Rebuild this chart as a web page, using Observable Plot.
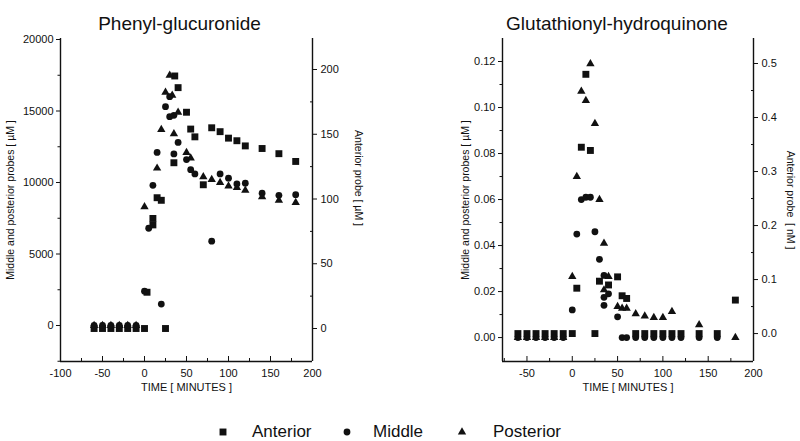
<!DOCTYPE html>
<html><head><meta charset="utf-8">
<script src="https://cdn.jsdelivr.net/npm/d3@7"></script>
<script src="https://cdn.jsdelivr.net/npm/@observablehq/plot@0.6"></script>
<style>
body{margin:0;background:#fff;font-family:"Liberation Sans",Arial,sans-serif;color:#111}
#wrap{position:relative;width:800px;height:441px;overflow:hidden;background:#fff}
#left,#right{position:absolute;top:0}
#left{left:0}#right{left:400px}
.lt{position:absolute;top:421px;font-size:17px;line-height:22px;white-space:nowrap}
.ls{position:absolute}
</style></head><body>
<div id="wrap"><div id="left"></div><div id="right"></div><div id="legend"></div></div>
<script>
// ---------- Phenyl-glucuronide ----------
const pgAnteriorT = [-60,-50,-40,-30,-20,-10,0,3,10,10,15,20,25,35,36,40,50,55,60,70,80,90,100,110,120,140,160,180];
const pgAnteriorV = [0,0,0,0,0,0,0,28,85,80,101,99,0,128,195,186,167,154,148,111,155,152,147,145,141,139,135,129];
const pgMiddleT = [-60,-50,-40,-30,-20,-10,0,5,10,15,20,25,30,30,35,35,40,50,55,60,80,90,100,110,120,140,160,180];
const pgMiddleV = [0,0,0,0,0,0,2400,6800,9800,12100,1500,15300,16000,14600,14700,12000,12800,11600,10900,10600,5900,10600,10300,9900,9950,9250,9100,9150];
const pgPosteriorT = [-60,-50,-40,-30,-20,-10,0,15,20,25,30,33,35,40,50,55,70,80,90,100,110,120,140,160,180];
const pgPosteriorV = [0,0,0,0,0,0,8300,11000,13700,16300,17500,16100,13400,14900,12100,11700,10400,10200,10000,9750,9650,9450,9000,8750,8600];

// ---------- Glutathionyl-hydroquinone ----------
const ghAnteriorT = [-60,-50,-40,-30,-20,-10,0,5,10,15,20,25,30,40,50,55,60,70,80,90,100,110,120,140,160,180];
const ghAnteriorV = [0,0,0,0,0,0,0,0.084,0.345,0.48,0.339,0,0.097,0.09,0.105,0.070,0.065,0,0,0,0,0,0,0,0,0.062];
const ghMiddleT = [-60,-50,-40,-30,-20,-10,0,5,10,15,20,25,30,35,35,35,40,50,55,60,70,80,90,100,110,120,140,160];
const ghMiddleV = [0,0,0,0,0,0,0.012,0.045,0.060,0.061,0.061,0.046,0.034,0.027,0.0175,0.014,0.019,0.009,0,0,0,0,0,0,0,0,0,0];
const ghPosteriorT = [-60,-50,-40,-30,-20,-10,0,5,10,15,20,25,30,35,35,40,50,55,60,70,80,90,100,110,140,180];
const ghPosteriorV = [0,0,0,0,0,0,0.0265,0.070,0.107,0.103,0.119,0.093,0.060,0.041,0.0207,0.0265,0.0135,0.0127,0.0127,0.0103,0.0093,0.0087,0.0087,0.0113,0.0055,0];

// ---------- tick values ----------
const pgXTicks = [-100,-50,0,50,100,150,200], pgXMinor = [-75,-25,25,75,125,175];
const pgYTicks = [0,5000,10000,15000,20000], pgYMinor = [-2500,2500,7500,12500,17500];
const pgAntTicks = [0,50,100,150,200], pgAntMinor = [25,75,125,175];
const ghXTicks = [-50,0,50,100,150,200], ghXMinor = [-75,-25,25,75,125,175];
const ghYTicks = [0,0.02,0.04,0.06,0.08,0.10,0.12], ghYMinor = [0.01,0.03,0.05,0.07,0.09,0.11];
const ghAntTicks = [0,0.1,0.2,0.3,0.4,0.5], ghAntMinor = [0.05,0.15,0.25,0.35,0.45];

const INK = "#111";
const plain = d => String(Math.round(d));
function rows(T, V, f = v => v) { return T.map((t, i) => ({t, y: f(V[i])})); }

function panel(c) {
  const toL = v => c.a * v + c.b;
  return Plot.plot({
    width: 400, height: 400,
    marginLeft: c.ml, marginRight: c.mr, marginTop: 38, marginBottom: 39,
    x: {domain: c.domainX, label: null},
    y: {domain: c.domainY, label: null},
    style: {fontFamily: '"Liberation Sans", Arial, sans-serif', color: INK, background: "white", overflow: "visible"},
    marks: [
      Plot.ruleX([c.domainX[0]], {stroke: INK, strokeWidth: 1.4}),
      Plot.ruleX([c.domainX[1]], {stroke: INK, strokeWidth: 1.4}),
      Plot.ruleY([c.domainY[0]], {stroke: INK, strokeWidth: 1.4}),
      Plot.axisX(c.xTicks, {tickSize: -5, tickPadding: 13, fontSize: 11, tickFormat: plain, label: null, stroke: INK}),
      Plot.axisX(c.xMinor, {tickSize: -3, tickFormat: () => "", label: null, stroke: INK}),
      Plot.axisY(c.yTicks, {anchor: "left", tickSize: 4, tickPadding: 3, fontSize: 11, tickFormat: c.yFmt, label: null, stroke: INK}),
      Plot.axisY(c.yMinor, {anchor: "left", tickSize: 2.5, tickFormat: () => "", label: null, stroke: INK}),
      Plot.axisY(c.antTicks.map(toL), {anchor: "right", tickSize: 4, tickPadding: 4, fontSize: 11, tickFormat: d => c.antFmt((d - c.b) / c.a), label: null, stroke: INK}),
      Plot.axisY(c.antMinor.map(toL), {anchor: "right", tickSize: -3, tickFormat: () => "", label: null, stroke: INK}),
      Plot.text([c.title], {frameAnchor: "top", dy: -22, dx: c.titleDx, fontSize: 19, fill: INK}),
      Plot.text(["TIME [ MINUTES ]"], {frameAnchor: "bottom", dy: 29, fontSize: 11, fill: INK}),
      Plot.text([c.leftLabel], {frameAnchor: "left", textAnchor: "middle", rotate: -90, dx: c.leftDx, fontSize: 10.5, fill: INK}),
      Plot.text([c.rightLabel], {frameAnchor: "right", textAnchor: "middle", rotate: 90, dx: c.rightDx, dy: c.rightDy, fontSize: 10.5, fill: INK}),
      Plot.dot(rows(c.antT, c.antV, toL), {x: "t", y: "y", symbol: "square", r: 3.9, fill: INK}),
      Plot.dot(rows(c.midT, c.midV), {x: "t", y: "y", symbol: "circle", r: 3.4, fill: INK}),
      Plot.dot(rows(c.posT, c.posV), {x: "t", y: "y", symbol: "triangle", r: 3.1, fill: INK})
    ]
  });
}

document.getElementById("left").append(panel({
  title: "Phenyl-glucuronide", titleDx: -7,
  ml: 60, mr: 88, domainX: [-100, 200], domainY: [-2517, 20070],
  xTicks: pgXTicks, xMinor: pgXMinor, yTicks: pgYTicks, yMinor: pgYMinor, yFmt: plain,
  antTicks: pgAntTicks, antMinor: pgAntMinor, antFmt: plain, a: 90.56, b: -210,
  leftLabel: "Middle and posterior probes [ µM ]", leftDx: -50,
  rightLabel: "Anterior probe [ µM ]", rightDx: 46, rightDy: -22,
  antT: pgAnteriorT, antV: pgAnteriorV, midT: pgMiddleT, midV: pgMiddleV, posT: pgPosteriorT, posV: pgPosteriorV
}));

document.getElementById("right").append(panel({
  title: "Glutathionyl-hydroquinone", titleDx: -11,
  ml: 102, mr: 47, domainX: [-77, 200], domainY: [-0.0104, 0.13],
  xTicks: ghXTicks, xMinor: ghXMinor, yTicks: ghYTicks, yMinor: ghYMinor, yFmt: d3.format(".2f"),
  antTicks: ghAntTicks, antMinor: ghAntMinor, antFmt: d3.format(".1f"), a: 0.23478, b: 0.001739,
  leftLabel: "Middle and posterior probes [ µM ]", leftDx: -37,
  rightLabel: "Anterior probe  [ nM ]", rightDx: 37, rightDy: 0,
  antT: ghAnteriorT, antV: ghAnteriorV, midT: ghMiddleT, midV: ghMiddleV, posT: ghPosteriorT, posV: ghPosteriorV
}));

// ---------- legend ----------
const legendNames = ["Anterior", "Middle", "Posterior"];
const legendSymbols = ["square", "circle", "triangle"];
const legendSymX = [223, 347, 462];
const legendTextX = [252, 373, 493];
const leg = document.getElementById("legend");
legendNames.forEach((name, i) => {
  const s = document.createElementNS("http://www.w3.org/2000/svg", "svg");
  s.setAttribute("width", 14); s.setAttribute("height", 14);
  s.setAttribute("class", "ls");
  s.style.left = (legendSymX[i] - 7) + "px"; s.style.top = (432 - 7) + "px";
  const p = document.createElementNS("http://www.w3.org/2000/svg", "path");
  p.setAttribute("transform", "translate(7,7)");
  const sym = {square: d3.symbolSquare, circle: d3.symbolCircle, triangle: d3.symbolTriangle}[legendSymbols[i]];
  const r = [3.9, 3.4, 3.1][i];
  p.setAttribute("d", d3.symbol(sym, Math.PI * r * r)());
  p.setAttribute("fill", INK);
  s.append(p); leg.append(s);
  const t = document.createElement("div");
  t.className = "lt"; t.textContent = name; t.style.left = legendTextX[i] + "px";
  leg.append(t);
});
</script>
</body></html>
